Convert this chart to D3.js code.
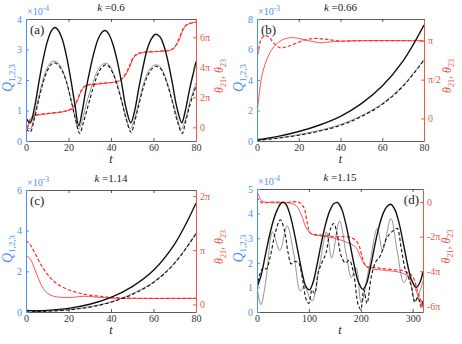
<!DOCTYPE html>
<html>
<head>
<meta charset="utf-8">
<script src="https://cdn.jsdelivr.net/npm/d3@7"></script>
<style>
  body { margin: 0; background: #fff; }
  svg { font-family: "Liberation Serif", "DejaVu Serif", serif; }
</style>
</head>
<body>
<div id="chart"></div>
<script>
// colours
var blue = "#4a8ff5";
var redAxis = "#ea5a3f";
var redLine = "#ff2a2a";

// ---- panel (a), k = 0.6, Q in 1e-4, theta in units of pi
var aT1 = [0,2,4,6,8,10,12,13.5,15,17,19,21,23,24.8,26.5,28,30,32,34,36,37.5,39,41,43,45,47,49.3,51,53,55,57,59,61,63,65,67,69,71,73.3,75,77,79,80];
var aQ1 = [0.75,0.6,1.1,1.9,2.65,3.25,3.62,3.72,3.65,3.35,2.8,2.05,1.2,0.5,1.0,1.6,2.3,2.9,3.35,3.58,3.62,3.5,3.15,2.6,1.9,1.1,0.6,0.95,1.7,2.4,3.0,3.35,3.5,3.42,3.1,2.55,1.85,1.1,0.6,1.0,1.7,2.3,2.6];
var aT3 = [0,2,4,6,8,10,12,13.5,15,17,19,21,23,25.3,27,29,31,33,35,37.5,39,41,43,45,47,49.5,51,53,55,57,59,61,63,65,67,69,71,73.5,75,77,79,80];
var aQ3 = [0.4,0.3,0.75,1.35,1.9,2.3,2.52,2.56,2.5,2.3,1.95,1.4,0.8,0.25,0.6,1.1,1.6,2.05,2.35,2.5,2.45,2.2,1.8,1.3,0.75,0.28,0.6,1.15,1.7,2.1,2.35,2.45,2.4,2.15,1.75,1.25,0.7,0.25,0.6,1.15,1.6,1.8];
var aT2 = [0,2,4,6,8,10,12,13.5,15,17,19,21,23,24.8,26.5,28.5,31,33,35,37.3,39,41,43,45,47,49,51,53,55,57,59,61,63,65,67,69,71,73,75,77,79,80];
var aQ2 = [0.45,0.4,0.85,1.45,2.0,2.4,2.6,2.62,2.56,2.35,1.95,1.4,0.8,0.38,0.7,1.25,1.8,2.2,2.45,2.55,2.5,2.25,1.85,1.35,0.8,0.4,0.7,1.25,1.8,2.2,2.42,2.5,2.45,2.2,1.8,1.3,0.8,0.4,0.7,1.25,1.7,1.9];
var aTh = [0,1,2,4,10,18,22,24,26,28,35,44,47,49,51,54,62,69,72,74,76,80];
var aTh21 = [-0.45,0.1,0.5,0.75,0.9,1.05,1.25,1.7,2.4,2.75,2.9,3.1,3.5,4.1,4.7,4.95,5.05,5.2,5.8,6.5,6.85,7.0];
var aTh23 = [-0.4,0.15,0.55,0.78,0.92,1.07,1.3,1.8,2.45,2.78,2.93,3.12,3.6,4.2,4.75,4.98,5.07,5.22,5.9,6.6,6.88,7.02];

// ---- panel (b), k = 0.66, Q in 1e-3
var bT = [0,10,20,30,40,50,60,70,80];
var bQ1 = [0.08,0.3,0.62,1.05,1.62,2.45,3.6,5.25,7.6];
var bQ3 = [0.04,0.18,0.38,0.65,1.02,1.6,2.4,3.6,5.3];
var bQ2 = [0.06,0.2,0.42,0.7,1.08,1.66,2.45,3.65,5.35];
var bT21 = [0,1,2,3,5,8,12,16,20,25,30,35,45,80];
var bTh21 = [0.04,0.3,0.5,0.62,0.78,0.92,1.01,1.04,1.03,1.0,0.975,0.985,1.0,1.0];
var bT23 = [0,1,2,4,6,8,11,14,18,23,28,33,40,50,80];
var bTh23 = [0.75,0.92,1.02,1.07,1.04,0.97,0.91,0.92,0.96,1.01,1.03,1.02,0.995,1.0,1.0];

// ---- panel (c), k = 1.14, Q in 1e-3
var cT = [0,5,10,20,30,40,50,60,70,80];
var cQ1 = [0.08,0.06,0.08,0.18,0.38,0.72,1.25,2.05,3.35,5.35];
var cQ3 = [0.05,0.03,0.04,0.1,0.24,0.48,0.86,1.45,2.4,3.85];
var cQ2 = [0.06,0.04,0.05,0.12,0.26,0.5,0.9,1.48,2.43,3.88];
var cT21 = [0,2,4,6,8,10,13,17,22,27,32,40,50,80];
var cTh21 = [0.9,0.84,0.66,0.46,0.3,0.21,0.15,0.13,0.13,0.15,0.14,0.115,0.11,0.11];
var cT23 = [0,2,4,6,8,10,12,15,20,25,30,35,40,50,80];
var cTh23 = [1.18,1.1,0.96,0.81,0.67,0.56,0.47,0.37,0.27,0.21,0.17,0.15,0.13,0.115,0.11];

// ---- panel (d), k = 1.15, Q in 1e-4
var dT1 = [0,8,16,24,32,40,48,55,63,71,79,87,94,101,108,116,124,132,140,148,155,163,171,179,187,195,204,211,219,227,235,243,251,258,266,274,282,290,298,307,314,320];
var dQ1 = [1.0,1.5,2.3,3.1,3.75,4.2,4.45,4.4,4.0,3.3,2.45,1.6,1.05,0.9,1.2,1.95,2.8,3.55,4.1,4.4,4.45,4.2,3.6,2.8,1.95,1.25,0.92,1.15,1.85,2.7,3.45,4.0,4.3,4.38,4.15,3.6,2.8,1.95,1.3,1.0,1.2,1.65];
var dT2 = [0,7.6,17,30,44,58,71,83.5,91,106,121,134,144,159,172,182,191,201,216,232,242,258,270,283,292,305,320];
var dQ2 = [1.0,0.3,1.26,3.25,2.5,3.5,2.35,0.85,1.05,0.44,1.95,3.25,2.2,3.7,2.35,1.4,1.8,0.37,1.8,3.4,2.5,3.8,2.5,1.2,1.5,0.44,1.26];
var dT3 = [0,5,12,18,25,35,45,53,60,66,72,80,88,95,100,106,111,118,125,133,142,148,155,162,170,178,186,195,200,206,212,220,228,238,250,262,270,278,285,292,298,304,310,316,320];
var dQ3 = [1.0,1.5,1.8,1.75,2.2,3.2,3.75,3.3,2.4,1.95,2.05,2.0,1.3,0.5,0.35,0.9,0.75,1.6,2.0,2.4,3.4,3.6,3.1,2.3,2.0,2.1,1.6,0.3,0.1,0.9,0.35,1.4,2.0,2.3,3.0,3.3,3.4,2.6,1.8,1.4,1.0,0.4,0.6,0.2,0.5];
var dT21 = [0,5,10,20,40,60,75,85,95,105,120,150,175,190,200,210,220,250,280,295,305,315,320];
var dTh21 = [0.6,0.25,0.05,-0.02,-0.05,-0.05,-0.2,-0.7,-1.5,-1.85,-1.95,-2.1,-2.35,-2.6,-3.2,-3.7,-3.85,-3.95,-4.1,-4.4,-5.0,-5.8,-6.1];
var dT23 = [0,5,12,30,60,80,90,97,103,120,150,170,185,195,203,210,230,260,285,300,310,320];
var dTh23 = [0.3,0.05,-0.05,0.0,-0.02,0.0,-0.3,-1.2,-1.8,-1.9,-2.0,-2.0,-2.1,-2.4,-3.2,-3.7,-3.8,-3.9,-4.0,-4.3,-5.2,-6.0];

function pts(ts, vs) {
  return ts.map(function(t, i) { return [t, vs[i]]; });
}

var panels = [
  { tag: "(a)", k: "0.6", box: [26, 196, 19, 141], xMax: 80, xTicks: [0,20,40,60,80],
    qMax: 4, qTicks: [0,1,2,3,4], exp: "-4",
    thDom: [-0.91, 7.22], thTicks: [0,2,4,6], thLabels: ["0","2\u03c0","4\u03c0","6\u03c0"],
    q: [pts(aT2, aQ2), pts(aT3, aQ3), pts(aT1, aQ1)], th: [pts(aTh, aTh21), pts(aTh, aTh23)], tagRight: false },
  { tag: "(b)", k: "0.66", box: [257, 424, 19, 141], xMax: 80, xTicks: [0,20,40,60,80],
    qMax: 8, qTicks: [0,2,4,6,8], exp: "-3",
    thDom: [-0.29, 1.28], thTicks: [0,0.5,1], thLabels: ["0","\u03c0/2","\u03c0"],
    q: [pts(bT, bQ2), pts(bT, bQ3), pts(bT, bQ1)], th: [pts(bT21, bTh21), pts(bT23, bTh23)], tagRight: false },
  { tag: "(c)", k: "1.14", box: [26, 196, 190, 312], xMax: 80, xTicks: [0,20,40,60,80],
    qMax: 6, qTicks: [0,2,4,6], exp: "-3",
    thDom: [-0.14, 2.11], thTicks: [0,1,2], thLabels: ["0","\u03c0","2\u03c0"],
    q: [pts(cT, cQ2), pts(cT, cQ3), pts(cT, cQ1)], th: [pts(cT21, cTh21), pts(cT23, cTh23)], tagRight: false },
  { tag: "(d)", k: "1.15", box: [257, 423, 189, 312], xMax: 320, xTicks: [0,100,200,300],
    qMax: 5, qTicks: [0,1,2,3,4,5], exp: "-4",
    thDom: [-6.35, 0.75], thTicks: [0,-2,-4,-6], thLabels: ["0","-2\u03c0","-4\u03c0","-6\u03c0"],
    q: [pts(dT2, dQ2), pts(dT3, dQ3), pts(dT1, dQ1)], th: [pts(dT21, dTh21), pts(dT23, dTh23)], tagRight: true }
];

var svg = d3.select("#chart").append("svg").attr("width", 462).attr("height", 344);
var intFmt = d3.format("d");

panels.forEach(function(p) {
  var x0 = p.box[0], x1 = p.box[1], y0 = p.box[2], y1 = p.box[3];
  var x = d3.scaleLinear().domain([0, p.xMax]).range([x0, x1]);
  var yq = d3.scaleLinear().domain([0, p.qMax]).range([y1, y0]);
  var yt = d3.scaleLinear().domain(p.thDom).range([y1, y0]);
  var g = svg.append("g");

  g.append("clipPath").attr("id", "clip" + x0 + y0).append("rect")
    .attr("x", x0).attr("y", y0).attr("width", x1 - x0).attr("height", y1 - y0);
  var plot = g.append("g").attr("clip-path", "url(#clip" + x0 + y0 + ")");

  // red phase curves
  var lt = d3.line().x(function(d) { return x(d[0]); }).y(function(d) { return yt(d[1]); }).curve(d3.curveCatmullRom);
  plot.append("path").attr("d", lt(p.th[0])).attr("fill", "none").attr("stroke", redLine).attr("stroke-width", 0.8);
  plot.append("path").attr("d", lt(p.th[1])).attr("fill", "none").attr("stroke", redLine).attr("stroke-width", 1.2).attr("stroke-dasharray", "3.5,2");

  // black amplitude curves
  var lq = d3.line().x(function(d) { return x(d[0]); }).y(function(d) { return yq(d[1]); }).curve(d3.curveCatmullRom);
  plot.append("path").attr("d", lq(p.q[0])).attr("fill", "none").attr("stroke", "#666").attr("stroke-width", 0.7);
  plot.append("path").attr("d", lq(p.q[1])).attr("fill", "none").attr("stroke", "#111").attr("stroke-width", 1.1).attr("stroke-dasharray", "3.5,2.2");
  plot.append("path").attr("d", lq(p.q[2])).attr("fill", "none").attr("stroke", "#111").attr("stroke-width", 1.4);

  // bottom and top axes
  var xb = g.append("g").attr("transform", "translate(0," + y1 + ")")
    .call(d3.axisBottom(x).tickValues(p.xTicks).tickSizeInner(-3).tickSizeOuter(0).tickPadding(3).tickFormat(intFmt));
  var xt = g.append("g").attr("transform", "translate(0," + y0 + ")")
    .call(d3.axisTop(x).tickValues(p.xTicks).tickSizeInner(-3).tickSizeOuter(0).tickFormat(""));
  [xb, xt].forEach(function(a) {
    a.select(".domain").attr("stroke", "#333").attr("stroke-width", 0.8);
    a.selectAll(".tick line").attr("stroke", "#333").attr("stroke-width", 0.8);
    a.selectAll("text").attr("font-size", 10).attr("fill", "#333").attr("font-family", "Liberation Serif");
  });

  // left Q axis
  var yl = g.append("g").attr("transform", "translate(" + x0 + ",0)")
    .call(d3.axisLeft(yq).tickValues(p.qTicks).tickSizeInner(-3).tickSizeOuter(0).tickPadding(4).tickFormat(intFmt));
  yl.select(".domain").attr("stroke", blue).attr("stroke-width", 1);
  yl.selectAll(".tick line").attr("stroke", blue);
  yl.selectAll("text").attr("font-size", 10).attr("fill", blue).attr("font-family", "Liberation Serif");

  // right theta axis
  var yr = g.append("g").attr("transform", "translate(" + x1 + ",0)")
    .call(d3.axisRight(yt).tickValues(p.thTicks).tickSizeInner(-3).tickSizeOuter(0).tickPadding(4)
      .tickFormat(function(d, i) { return p.thLabels[i]; }));
  yr.select(".domain").attr("stroke", redAxis).attr("stroke-width", 1);
  yr.selectAll(".tick line").attr("stroke", redAxis);
  yr.selectAll("text").attr("font-size", 10).attr("fill", redAxis).attr("font-family", "Liberation Serif");

  // exponent
  var ex = g.append("text").attr("x", x0 + 1).attr("y", y0 - 4).attr("font-size", 10).attr("fill", blue);
  ex.append("tspan").text("\u00d710");
  ex.append("tspan").attr("dy", -4).attr("font-size", 7.5).text(p.exp);

  // title
  var tt = g.append("text").attr("x", (x0 + x1) / 2).attr("y", y0 - 8).attr("text-anchor", "middle").attr("font-size", 11).attr("fill", "#222");
  tt.append("tspan").attr("font-style", "italic").text("k");
  tt.append("tspan").text(" =" + p.k);

  // panel tag
  g.append("text").attr("x", p.tagRight ? x1 - 4 : x0 + 4).attr("y", y0 + 15)
    .attr("text-anchor", p.tagRight ? "end" : "start").attr("font-size", 13).attr("fill", "#222").text(p.tag);

  // x label
  g.append("text").attr("x", (x0 + x1) / 2).attr("y", y1 + 22).attr("text-anchor", "middle")
    .attr("font-size", 12).attr("font-style", "italic").attr("fill", "#222").text("t");

  // left label
  var ql = g.append("text").attr("transform", "translate(" + (x0 - 14) + "," + ((y0 + y1) / 2 - 2) + ") rotate(-90)")
    .attr("text-anchor", "middle").attr("font-size", 14).attr("fill", blue);
  ql.append("tspan").attr("font-style", "italic").text("Q");
  ql.append("tspan").attr("dy", 3).attr("font-size", 9).text("1,2,3");

  // right label
  var rl = g.append("text").attr("transform", "translate(" + (x1 + 27) + "," + ((y0 + y1) / 2 - 4) + ") rotate(-90)")
    .attr("text-anchor", "middle").attr("font-size", 12).attr("fill", redAxis);
  rl.append("tspan").attr("font-style", "italic").text("\u03b8");
  rl.append("tspan").attr("dy", 3).attr("font-size", 8).text("21");
  rl.append("tspan").attr("dy", -3).text(", ");
  rl.append("tspan").attr("font-style", "italic").text("\u03b8");
  rl.append("tspan").attr("dy", 3).attr("font-size", 8).text("23");
});
</script>
</body>
</html>
